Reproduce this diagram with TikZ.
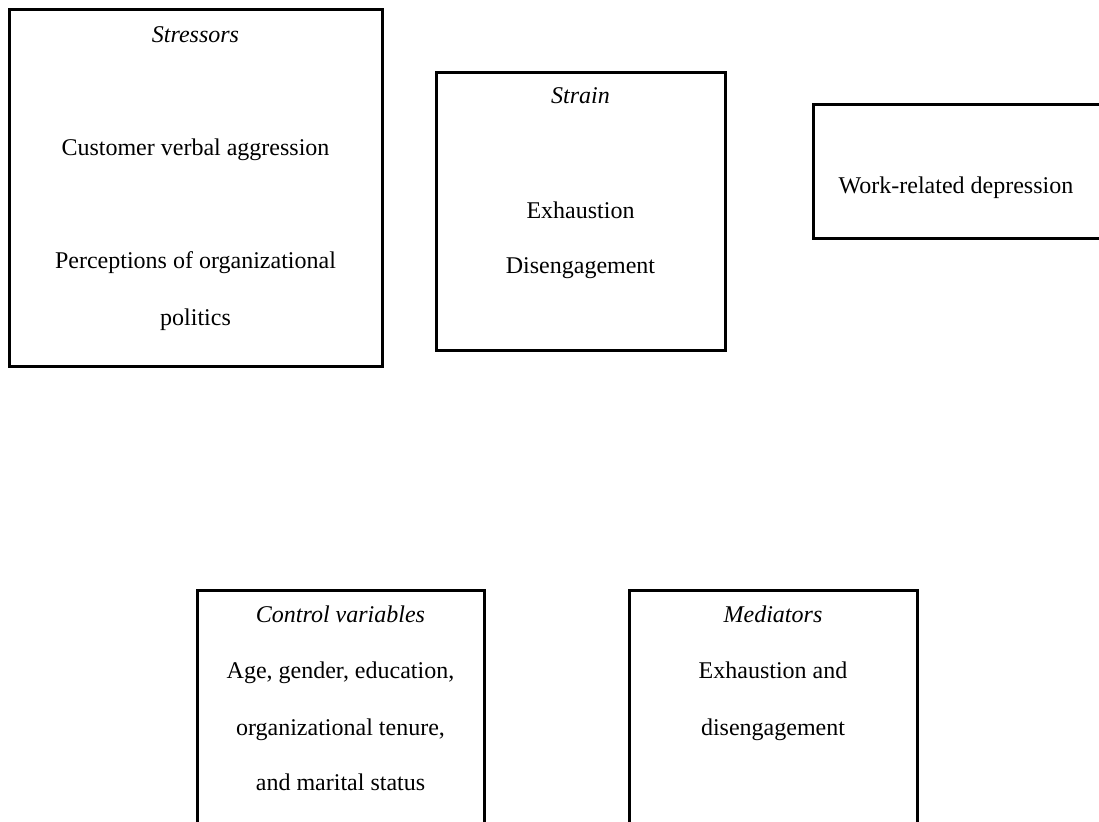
\documentclass[tikz,border=0pt]{standalone}
\usepackage{fontspec}
\setmainfont{Liberation Serif}
\begin{document}
\begin{tikzpicture}[x=0.5pt,y=-0.5pt,
  box/.style={draw=black,line width=1.5pt,fill=none,inner sep=0pt,rectangle},
  txt/.style={anchor=base,inner sep=0pt,font=\fontsize{12}{14}\selectfont},
  ttl/.style={txt,font=\fontsize{12}{14}\selectfont\itshape}]
\clip (0,0) rectangle (1099,821);
\fill[white] (0,0) rectangle (1099,821);
% boxes
\node[box,minimum width=186.5pt,minimum height=178.5pt] (stress) at (195.5,187.5) {};
\node[box,minimum width=144.5pt,minimum height=139pt] (strain) at (580.5,211) {};
\node[box,minimum width=153.5pt,minimum height=67pt] (dep) at (966.5,171) {};
\node[box,minimum width=143.5pt,minimum height=130pt] (ctrl) at (340.5,720) {};
\node[box,minimum width=144pt,minimum height=130pt] (med) at (773,720) {};
% Stressors
\node[ttl] (s0) at (195.5,42) {Stressors};
\node[txt] (s1) at (195.5,155) {Customer verbal aggression};
\node[txt] (s2) at (195.5,268) {Perceptions of organizational};
\node[txt] (s3) at (195.5,325) {politics};
% Strain
\node[ttl] (t0) at (580.5,103) {Strain};
\node[txt] (t1) at (580.5,218) {Exhaustion};
\node[txt] (t2) at (580.5,273) {Disengagement};
% Depression
\node[txt] (d1) at (956,193) {Work-related depression};
% Control variables
\node[ttl] (c0) at (340.5,622) {Control variables};
\node[txt] (c1) at (340.5,678) {Age, gender, education,};
\node[txt] (c2) at (340.5,735) {organizational tenure,};
\node[txt] (c3) at (340.5,790) {and marital status};
% Mediators
\node[ttl] (m0) at (773,622) {Mediators};
\node[txt] (m1) at (773,678) {Exhaustion and};
\node[txt] (m2) at (773,735) {disengagement};
\end{tikzpicture}
\end{document}
